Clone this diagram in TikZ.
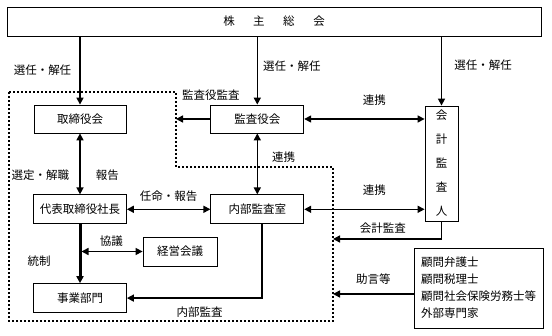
\documentclass[tikz,border=0pt]{standalone}
\usepackage{fontspec}
\usepackage{tikz}
\usetikzlibrary{positioning, arrows.meta}
\newfontfamily\jpfont{Noto Sans CJK JP}

\begin{document}
\begin{tikzpicture}[x=1pt, y=1pt,
  box/.style={rectangle, draw=black, line width=0.8pt, inner sep=0pt,
              minimum width=93pt, minimum height=29pt,
              font=\jpfont\fontsize{11.5}{14}\selectfont, align=center},
  lbl/.style={font=\jpfont\fontsize{11.5}{14}\selectfont, inner sep=0pt},
  arr/.style={-{Triangle[length=7pt, width=7pt]}, line width=1.5pt},
  darr/.style={{Triangle[length=7pt, width=7pt]}-{Triangle[length=7pt, width=7pt]}, line width=1.5pt},
  wall/.style={line width=2pt, dash pattern=on 2pt off 2pt}
]
  \useasboundingbox (0,0) rectangle (552,336);

  \node[box, minimum width=534pt] (gm) at (274,314.5)
    {株\hspace{18.5pt}主\hspace{18.5pt}総\hspace{18.5pt}会};
  \node[box, minimum width=92pt, minimum height=28pt] (board) at (80,217) {取締役会};
  \node[box, minimum height=28pt, right=84pt of board] (audit) {監査役会};
  \node[box, below=61pt of board] (pres)  {代表取締役社長};
  \node[box, below=61pt of audit] (ia)    {内部監査室};
  \node[box, below=59pt of pres]  (dept)  {事業部門};
  \node[box, minimum width=74pt] (mgmt) at (180,84.5) {経営会議};
  \node[box, minimum width=33pt, minimum height=115pt,
        font=\jpfont\fontsize{11.5}{24}\selectfont] (acct) at (441.5,172.5)
    {会\\計\\監\\査\\人};
  \node[box, minimum width=129pt, minimum height=80pt, align=left,
        font=\jpfont\fontsize{11.5}{17}\selectfont] (adv) at (478.5,48)
    {顧問弁護士\\顧問税理士\\顧問社会保険労務士等\\外部専門家};

  % dotted boundary of the company
  \draw[wall] (9,244) -- (176,244) -- (176,169) -- (333,169) -- (333,15) -- (9,15) -- cycle;
  \coordinate (wallA) at (176,217);
  \coordinate (wallB) at (333,97);
  \coordinate (wallC) at (333,42);

  \draw[arr] (gm.south -| board) -- node[lbl, left=8pt]{選任・解任} (board.north);
  \draw[arr] (gm.south -| audit) -- node[lbl, pos=0.43, right=5pt]{選任・解任} (audit.north);
  \draw[arr] (gm.south -| acct)  -- node[lbl, pos=0.41, right=12pt]{選任・解任} (acct.north);

  \draw[darr] (audit.east) -- node[lbl, above=13pt, xshift=10pt]{連携} (acct.west |- audit.east);
  \draw[arr] (audit.west) -- (wallA);
  \node[lbl, anchor=west] (lblaudit) at ([shift={(6,24)}]wallA) {監査役監査};
  \draw[darr] (audit.south) -- node[lbl, pos=0.39, right=14pt]{連携} (ia.north);

  \draw[darr] (board.south) -- node[lbl, pos=0.69, left=10pt]{選定・解職}
                               node[lbl, pos=0.69, right=15pt]{報告} (pres.north);
  \draw[darr] (pres.east) -- node[lbl, above=7pt]{任命・報告} (ia.west);
  \draw[darr] (ia.east) -- node[lbl, above=13pt, xshift=10pt]{連携} (acct.west |- ia.east);
  \draw[arr] (acct.south) |- node[lbl, pos=0.77, above=4.5pt]{会計監査} (wallB);
  \draw[arr] (adv.west |- wallC) -- node[lbl, above=8.5pt]{助言等} (wallC);

  \draw[arr, line width=3pt] (pres.south) -- node[lbl, pos=0.63, left=28pt]{統制} (dept.north);
  \draw[darr, shorten <=1.5pt] (pres.south |- mgmt.west) -- node[lbl, above=4pt]{協議} (mgmt.west);
  \draw[arr] ([xshift=4.5pt]ia.south) |- node[lbl, pos=0.73, below=8pt]{内部監査} (dept.east);
\end{tikzpicture}
\end{document}
